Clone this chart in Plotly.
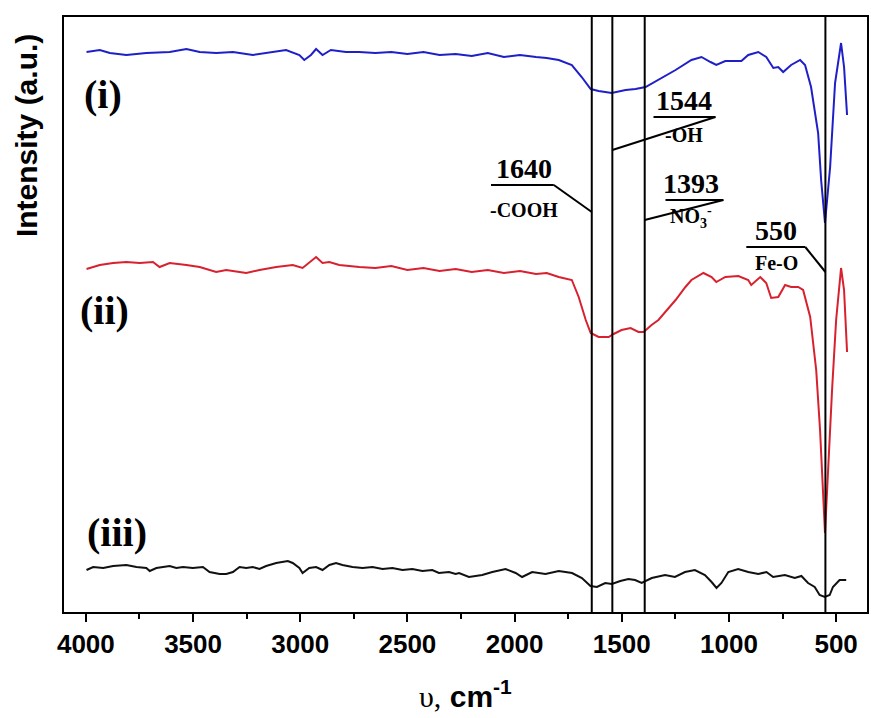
import plotly.graph_objects as go

# ---------------- data ----------------
wn_i = [3997, 3935, 3888, 3811, 3718, 3609, 3531, 3469, 3392, 3314, 3221, 3159, 3066, 3004, 2981, 2950,
        2926, 2896, 2857, 2787, 2725, 2650, 2575, 2500, 2425, 2350, 2275, 2200, 2125, 2050, 1975, 1900,
        1850, 1794, 1733, 1687, 1645, 1608, 1547, 1482, 1436, 1389, 1329, 1249, 1175, 1128, 1086, 1059,
        1017, 942, 910, 863, 826, 793, 770, 747, 710, 668, 645, 617, 584, 570, 552, 528, 505, 477, 463, 449]
int_i = [560, 562, 559, 557, 559, 560, 563, 560, 559, 560, 557, 559, 562, 557, 552, 557,
         563, 557, 562, 560, 560, 559, 560, 558, 560, 557, 558, 556, 559, 555, 557, 555,
         554, 552, 547, 535, 523, 521, 519, 522, 523, 525, 532, 542, 552, 555, 550, 547,
         551, 551, 557, 560, 555, 544, 545, 540, 547, 552, 547, 525, 479, 432, 389, 445, 529, 569, 545, 497]

wn_ii = [3997, 3935, 3873, 3811, 3749, 3687, 3656, 3609, 3531, 3469, 3392, 3345, 3283, 3252, 3190, 3112,
         3035, 2989, 2926, 2896, 2864, 2818, 2725, 2650, 2575, 2500, 2425, 2350, 2275, 2200, 2125, 2050,
         1975, 1900, 1850, 1794, 1733, 1701, 1668, 1645, 1608, 1561, 1538, 1501, 1459, 1422, 1398, 1361,
         1329, 1249, 1203, 1175, 1119, 1081, 1059, 1017, 956, 910, 896, 854, 826, 803, 770, 738, 710, 677,
         654, 621, 593, 575, 552, 538, 519, 500, 477, 463, 449]
int_ii = [343, 347, 349, 350, 349, 350, 345, 349, 347, 345, 340, 342, 340, 339, 342, 345,
          347, 344, 355, 349, 350, 347, 345, 344, 346, 342, 344, 341, 343, 340, 342, 339,
          341, 338, 339, 335, 332, 315, 292, 279, 275, 275, 278, 282, 284, 280, 280, 287,
          292, 312, 325, 332, 339, 335, 330, 335, 336, 332, 327, 335, 329, 314, 315, 327, 325, 325,
          322, 295, 242, 182, 79, 142, 222, 292, 344, 322, 260]

wn_iii = [3997, 3966, 3919, 3873, 3811, 3764, 3718, 3702, 3671, 3640, 3609, 3578, 3547, 3501, 3454, 3423,
          3376, 3345, 3314, 3283, 3252, 3221, 3190, 3159, 3112, 3058, 3035, 3004, 2989, 2958, 2926, 2896,
          2864, 2833, 2803, 2756, 2709, 2663, 2616, 2570, 2523, 2477, 2430, 2384, 2353, 2306, 2275, 2259,
          2213, 2151, 2104, 2042, 1995, 1965, 1918, 1856, 1794, 1732, 1686, 1646, 1616, 1577, 1546, 1507,
          1469, 1438, 1407, 1360, 1298, 1252, 1205, 1159, 1112, 1081, 1058, 1035, 1003, 957, 910, 863,
          825, 794, 739, 693, 662, 631, 600, 577, 553, 530, 515, 484, 453]
int_iii = [42, 45, 44, 46, 47, 45, 44, 41, 44, 45, 46, 44, 45, 44, 45, 40,
           38, 38, 40, 45, 44, 45, 43, 46, 49, 51, 49, 44, 39, 44, 45, 42,
           47, 49, 47, 45, 44, 45, 43, 44, 42, 43, 41, 42, 39, 40, 38, 39,
           35, 37, 40, 43, 39, 35, 40, 38, 41, 39, 34, 26, 25, 29, 28, 31,
           33, 32, 29, 34, 37, 35, 40, 42, 37, 30, 24, 29, 40, 43, 40, 38,
           40, 35, 37, 34, 36, 29, 25, 17, 15, 17, 25, 32, 32]

series_names = ["(i)", "(ii)", "(iii)"]
series_colors = ["#1f1fc8", "#d8212f", "#111111"]

peak_wn = [1640, 1544, 1393, 550]
peak_num = ["1640", "1544", "1393", "550"]
peak_group = ["-COOH", "-OH", "NO<sub>3</sub><sup>-</sup>", "Fe-O"]

x_ticks = [4000, 3500, 3000, 2500, 2000, 1500, 1000, 500]

# ---------------- layout helpers (positions, not data) ----------------
# label block: (text center wn, number y, underline y, group y, underline from wn, underline to wn, leader end y)
label_pos = [
    (1957, 444, 427, 402, 2110, 1817, 400),
    (1212, 512, 495, 477, 1352, 1063, 462),
    (1175, 429, 412, 395, 1296, 1026, 392),
    (779, 382, 365, 349, 919, 644, 340),
]
series_label_pos = [(4019, 518), (4037, 302), (4005, 80)]

fig = go.Figure()
for wn, val, name, col in [(wn_i, int_i, series_names[0], series_colors[0]),
                           (wn_ii, int_ii, series_names[1], series_colors[1]),
                           (wn_iii, int_iii, series_names[2], series_colors[2])]:
    fig.add_trace(go.Scatter(x=wn, y=val, mode="lines", name=name,
                             line=dict(color=col, width=2), showlegend=False))

shapes = []
annotations = []
for p in peak_wn:
    shapes.append(dict(type="line", xref="x", yref="paper", x0=p, x1=p, y0=0, y1=1,
                       line=dict(color="black", width=2)))

serif = "Liberation Serif"
for p, num, grp, (cx, ny, uy, gy, ux0, ux1, ly) in zip(peak_wn, peak_num, peak_group, label_pos):
    shapes.append(dict(type="line", xref="x", yref="y", x0=ux0, x1=ux1, y0=uy, y1=uy,
                       line=dict(color="black", width=2)))
    shapes.append(dict(type="line", xref="x", yref="y", x0=ux1, x1=p, y0=uy, y1=ly,
                       line=dict(color="black", width=2)))
    annotations.append(dict(x=cx, y=ny, xref="x", yref="y", text="<b>%s</b>" % num, showarrow=False,
                            font=dict(family=serif, size=28, color="black"), yanchor="middle"))
    annotations.append(dict(x=cx, y=gy, xref="x", yref="y", text="<b>%s</b>" % grp, showarrow=False,
                            font=dict(family=serif, size=20, color="black"), yanchor="middle"))

for name, (sx, sy) in zip(series_names, series_label_pos):
    annotations.append(dict(x=sx, y=sy, xref="x", yref="y", text="<b>%s</b>" % name, showarrow=False,
                            xanchor="left", yanchor="middle",
                            font=dict(family=serif, size=40, color="black")))

annotations.append(dict(x=-0.046, y=0.80, xref="paper", yref="paper", text="<b>Intensity (a.u.)</b>",
                        textangle=-90, showarrow=False, xanchor="center", yanchor="middle",
                        font=dict(family="Liberation Sans", size=30, color="black")))
annotations.append(dict(x=0.5, y=-0.137, xref="paper", yref="paper",
                        text="<span style='font-family:Liberation Serif'>υ,</span> <b>cm<sup>-1</sup></b>",
                        showarrow=False, xanchor="center", yanchor="middle",
                        font=dict(family="Liberation Sans", size=30, color="black")))

fig.update_layout(
    width=871, height=718,
    margin=dict(l=64, r=2, t=17, b=106),
    paper_bgcolor="white", plot_bgcolor="white",
    shapes=shapes, annotations=annotations,
    xaxis=dict(range=[4102, 356], tickvals=x_ticks, ticktext=[str(t) for t in x_ticks],
               ticks="outside", ticklen=8, tickwidth=2, tickcolor="black",
               minor=dict(dtick=250, tick0=250, ticks="outside", ticklen=5, tickwidth=2, tickcolor="black"),
               showline=True, linewidth=2, linecolor="black", mirror=True,
               showgrid=False, zeroline=False,
               tickfont=dict(family="Liberation Sans", size=26, color="black", weight="bold")),
    yaxis=dict(range=[0, 595], showticklabels=False, ticks="", showline=True, linewidth=2,
               linecolor="black", mirror=True, showgrid=False, zeroline=False),
)

fig.write_html("out.html", config={"displayModeBar": False},
               post_script="document.body.style.margin='0';document.body.style.overflow='hidden';")
